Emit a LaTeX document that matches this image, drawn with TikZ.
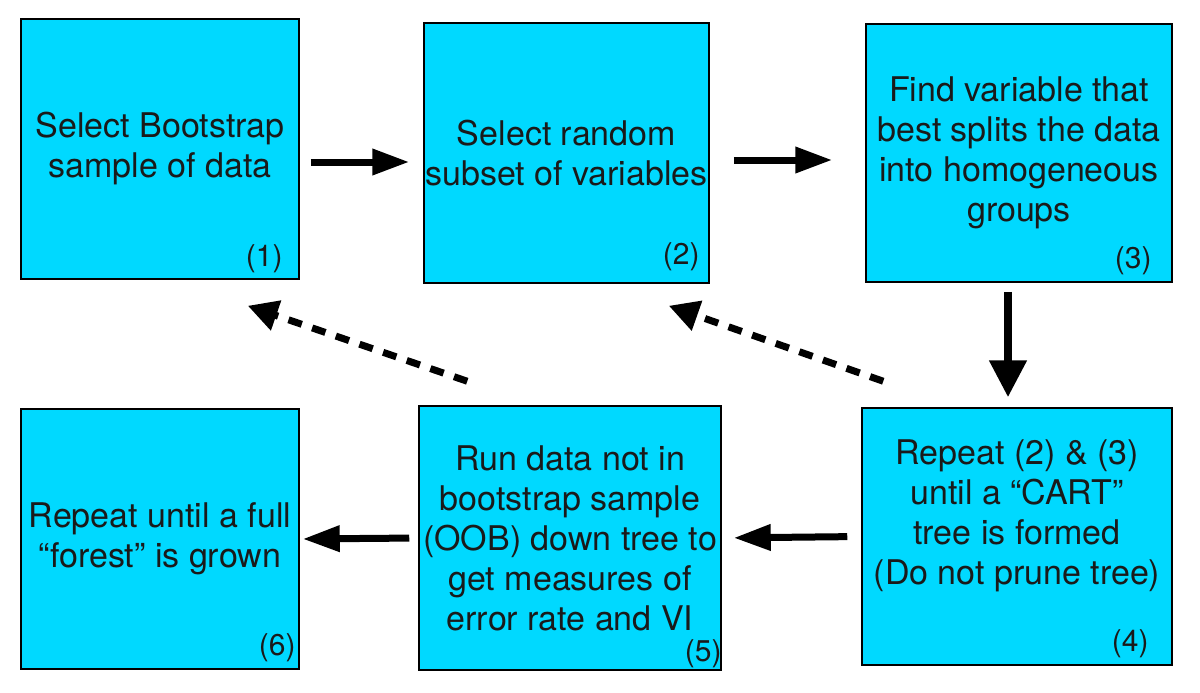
\documentclass[tikz,border=0pt]{standalone}
\usepackage{fontspec}
\setmainfont{TeX Gyre Heros}
\usetikzlibrary{arrows.meta,positioning,calc}
\definecolor{BoxCyan}{HTML}{00D9FF}
\definecolor{TextDark}{HTML}{1A1A1A}

\begin{document}
\begin{tikzpicture}[x=1pt,y=1pt,
  stepbox/.style={rectangle,draw=black,line width=1.5pt,fill=BoxCyan,align=center,
                  font=\fontsize{34}{40}\selectfont,text=TextDark,inner sep=0pt},
  num/.style={font=\fontsize{30}{32}\selectfont,text=TextDark,inner sep=0pt,anchor=south east},
  flow/.style={line width=7pt,-{Triangle[length=37pt,width=25pt]}},
  down/.style={line width=8pt,-{Triangle[length=37pt,width=36pt]}},
  back/.style={line width=7pt,dash pattern=on 14pt off 11pt,-{Triangle[length=30pt,width=30pt]}}
]
\useasboundingbox (0,0) rectangle (1200,-693);

\node[stepbox,minimum width=278pt,minimum height=260pt]
  (b1) at (160,-149) {Select Bootstrap\\sample of data};
\node[stepbox,minimum width=285pt,minimum height=260pt]
  (b2) at (566.5,-153) {Select random\\subset of variables};
\node[stepbox,minimum width=306pt,minimum height=258pt]
  (b3) at (1019,-153) {Find variable that\\best splits the data\\into homogeneous\\groups};
\node[stepbox,minimum width=310pt,minimum height=257pt]
  (b4) at (1017,-536.5) {Repeat (2) \& (3)\\until a “CART”\\tree is formed\\(Do not prune tree)\\[8pt]};
\node[stepbox,minimum width=302pt,minimum height=264pt]
  (b5) at (570,-538) {Run data not in\\bootstrap sample\\(OOB) down tree to\\get measures of\\error rate and VI};
\node[stepbox,minimum width=278pt,minimum height=260pt]
  (b6) at (160,-539) {Repeat until a full\\“forest” is grown};

% step numbers
\node[num] (n1) at ($(b1.south east)+(-17,7)$) {(1)};
\node[num] (n2) at ($(b2.south east)+(-10,13)$) {(2)};
\node[num] (n3) at ($(b3.south east)+(-21,8)$) {(3)};
\node[num] (n4) at ($(b4.south east)+(-24,8)$) {(4)};
\node[num] (n5) at ($(b5.south east)+(0,3)$) {(5)};
\node[num] (n6) at ($(b6.south east)+(-4,8)$) {(6)};

% main flow
\draw[flow,shorten <=11pt,shorten >=14pt] ([yshift=-13pt]b1.east) -- ([yshift=-9pt]b2.west);
\draw[flow,shorten <=24pt,shorten >=33pt] ([yshift=-7pt]b2.east) -- ([yshift=-7pt]b3.west);
\draw[down,shorten <=9pt,shorten >=10pt] ([xshift=-11pt]b3.south) -- ([xshift=-9pt]b4.north);
\draw[flow,shorten <=14pt,shorten >=12pt] (b4.west) -- (b5.east);
\draw[flow,shorten <=9pt,shorten >=3pt] (b5.west) -- (b6.east);

% loops back
\draw[back] ([shift={(22,26)}]b4.north west) -- ([shift={(-41,-22)}]b2.south east);
\draw[back] ([shift={(49,24)}]b5.north west) -- ([shift={(-52,-26)}]b1.south east);
\end{tikzpicture}
\end{document}
